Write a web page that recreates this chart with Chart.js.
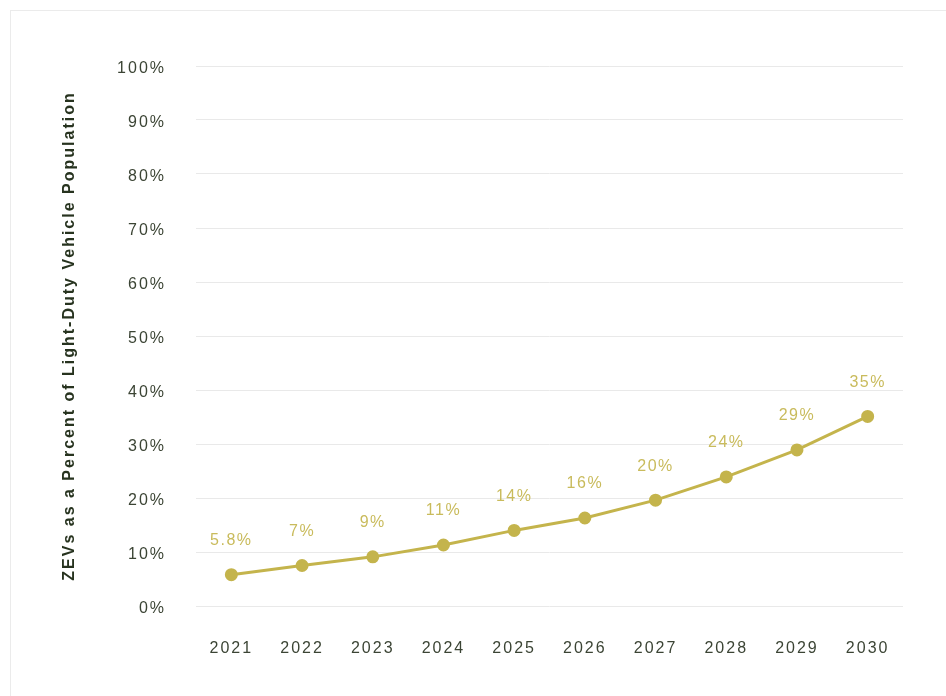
<!DOCTYPE html>
<html>
<head>
<meta charset="utf-8">
<script src="https://cdn.jsdelivr.net/npm/chart.js@4"></script>
<style>
  html, body { margin: 0; padding: 0; background: #fff; overflow: hidden; }
  .frame { position: absolute; left: 10px; top: 10px; width: 1000px; height: 1000px; border: 1px solid #ebebeb; }
  .wrap { position: absolute; left: 0; top: 0; width: 946px; height: 696px; }
</style>
</head>
<body>
<div class="frame"></div>
<div class="wrap"><canvas id="zevChart"></canvas></div>
<script>
// ===== DATA =====
const years = ['2021', '2022', '2023', '2024', '2025', '2026', '2027', '2028', '2029', '2030'];
const zevShare = [5.8, 7.5, 9.1, 11.3, 14.0, 16.3, 19.6, 23.9, 28.9, 35.1];
const pointLabels = ['5.8%', '7%', '9%', '11%', '14%', '16%', '20%', '24%', '29%', '35%'];
const yTicks = [0, 10, 20, 30, 40, 50, 60, 70, 80, 90, 100];

const LINE_COLOR = '#c4b44c';
const LABEL_COLOR = '#c9bb5c';
const TEXT_COLOR = '#3b4434';
const FONT = '"Liberation Sans", Arial, sans-serif';

// letter spacing for all canvas text
const spacingPlugin = {
  id: 'spacing',
  beforeUpdate(chart) { chart.ctx.letterSpacing = '2px'; },
  beforeDraw(chart) { chart.ctx.letterSpacing = '2px'; }
};

// value labels above each point
const valueLabels = {
  id: 'valueLabels',
  afterDatasetsDraw(chart) {
    const ctx = chart.ctx;
    const meta = chart.getDatasetMeta(0);
    ctx.save();
    ctx.letterSpacing = '1.5px';
    ctx.font = '16px ' + FONT;
    ctx.fillStyle = LABEL_COLOR;
    ctx.textAlign = 'center';
    ctx.textBaseline = 'middle';
    meta.data.forEach((pt, i) => {
      ctx.fillText(pointLabels[i], pt.x, pt.y - 34);
    });
    ctx.restore();
  }
};

new Chart(document.getElementById('zevChart'), {
  type: 'line',
  data: {
    labels: years,
    datasets: [{
      data: zevShare,
      borderColor: LINE_COLOR,
      backgroundColor: LINE_COLOR,
      borderWidth: 3,
      pointRadius: 5,
      pointHoverRadius: 5,
      tension: 0
    }]
  },
  options: {
    responsive: true,
    maintainAspectRatio: false,
    animation: false,
    layout: { padding: { left: 50, right: 43, top: 66, bottom: 0 } },
    plugins: {
      legend: { display: false },
      tooltip: { enabled: false }
    },
    scales: {
      x: {
        offset: true,
        grid: { display: false, drawTicks: false, offset: true },
        border: { display: false },
        ticks: { color: TEXT_COLOR, font: { family: FONT, size: 16 }, padding: 33, maxRotation: 0 },
        afterFit: s => { s.height = 90; }
      },
      y: {
        min: 0,
        max: 100,
        afterBuildTicks: s => { s.ticks = yTicks.map(v => ({ value: v })); },
        grid: { color: '#e9e9e9', lineWidth: 1, drawTicks: false },
        border: { display: false },
        ticks: { color: TEXT_COLOR, font: { family: FONT, size: 16 }, padding: 30, labelOffset: 3, callback: v => v + '%' },
        title: {
          display: true,
          text: 'ZEVs as a Percent of Light-Duty Vehicle Population',
          color: '#27331f',
          font: { family: FONT, size: 16, weight: 'bold' },
          padding: { top: 10, bottom: 0 }
        },
        afterFit: s => { s.width = 146; }
      }
    }
  },
  plugins: [spacingPlugin, valueLabels]
});
</script>
</body>
</html>
